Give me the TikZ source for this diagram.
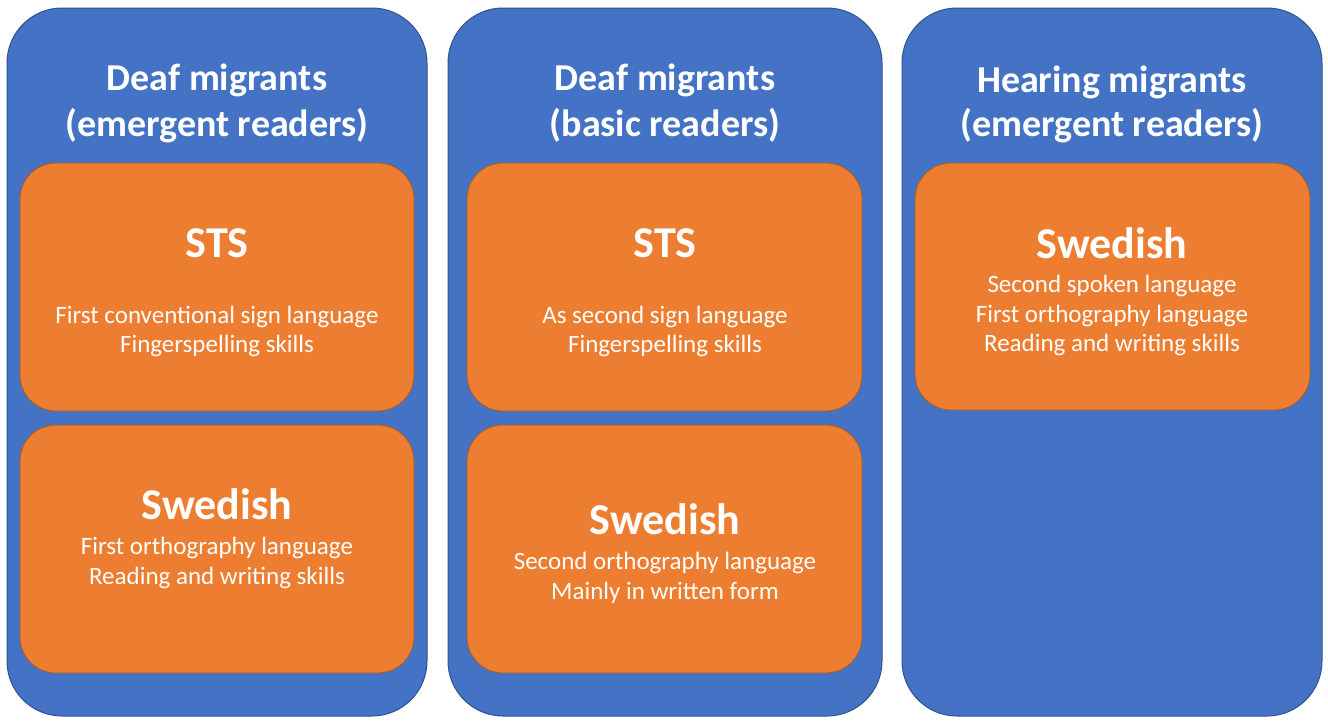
\documentclass[tikz,border=0pt]{standalone}
\usepackage{fontspec}
\setmainfont{Carlito}
\definecolor{obl}{HTML}{4472C4}
\definecolor{oblb}{HTML}{2F528F}
\definecolor{ora}{HTML}{ED7D31}
\definecolor{orab}{HTML}{AE5A21}
\tikzset{
  outerbox/.style={fill=obl,draw=oblb,line width=1pt,rounded corners=55pt},
  innerbox/.style={fill=ora,draw=orab,line width=0.8pt,rounded corners=36pt},
  ttl/.style={text=white,font=\fontsize{38}{44}\selectfont\bfseries,anchor=base,inner sep=0pt},
  lang/.style={text=white,font=\fontsize{44}{50}\selectfont\bfseries,anchor=base,inner sep=0pt},
  body/.style={text=white,font=\fontsize{25}{30}\selectfont,anchor=base,inner sep=0pt}
}
\begin{document}
\begin{tikzpicture}[x=1pt,y=-1pt]
\useasboundingbox (0,0) rectangle (1328,721);
% outer boxes
\draw[outerbox] (7,8) rectangle (427,716);
\draw[outerbox] (448,8) rectangle (882,716);
\draw[outerbox] (902,8) rectangle (1322,716);
% inner boxes
\draw[innerbox] (20,163) rectangle (414,411);
\draw[innerbox] (20,425) rectangle (414,673);
\draw[innerbox] (467,163) rectangle (862,411);
\draw[innerbox] (467,425) rectangle (862,673);
\draw[innerbox] (915,163) rectangle (1310,410);
% column 1
\node[ttl] (t1a) at (217,90) {Deaf migrants};
\node[ttl] (t1b) at (217,136) {(emergent readers)};
\node[lang] (s1) at (217,257) {STS};
\node[body] (s1a) at (217,323) {First conventional sign language};
\node[body] (s1b) at (217,352) {Fingerspelling skills};
\node[lang] (w1) at (217,519) {Swedish};
\node[body] (w1a) at (217,554) {First orthography language};
\node[body] (w1b) at (217,584) {Reading and writing skills};
% column 2
\node[ttl] (t2a) at (665,90) {Deaf migrants};
\node[ttl] (t2b) at (665,136) {(basic readers)};
\node[lang] (s2) at (665,257) {STS};
\node[body] (s2a) at (665,323) {As second sign language};
\node[body] (s2b) at (665,352) {Fingerspelling skills};
\node[lang] (w2) at (665,534) {Swedish};
\node[body] (w2a) at (665,569) {Second orthography language};
\node[body] (w2b) at (665,599) {Mainly in written form};
% column 3
\node[ttl] (t3a) at (1112,92) {Hearing migrants};
\node[ttl] (t3b) at (1112,136) {(emergent readers)};
\node[lang] (w3) at (1112,258) {Swedish};
\node[body] (w3a) at (1112,292) {Second spoken language};
\node[body] (w3b) at (1112,322) {First orthography language};
\node[body] (w3c) at (1112,351) {Reading and writing skills};
\end{tikzpicture}
\end{document}
